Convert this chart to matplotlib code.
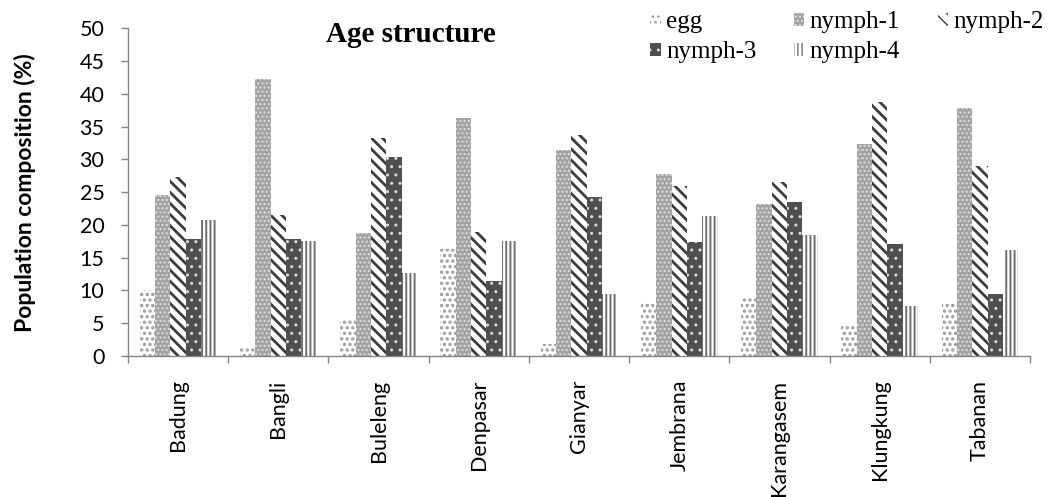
import numpy as np
import matplotlib
matplotlib.use("Agg")
import matplotlib.pyplot as plt
from matplotlib.patches import Patch

regions = ["Badung", "Bangli", "Buleleng", "Denpasar", "Gianyar",
           "Jembrana", "Karangasem", "Klungkung", "Tabanan"]
egg = [10.1, 1.5, 5.7, 16.4, 1.8, 8.1, 8.9, 4.9, 8.0]
nymph1 = [24.5, 42.2, 18.7, 36.3, 31.4, 27.8, 23.2, 32.3, 37.8]
nymph2 = [27.3, 21.5, 33.3, 18.9, 33.7, 25.9, 26.5, 38.7, 29.0]
nymph3 = [17.9, 17.8, 30.4, 11.5, 24.2, 17.4, 23.5, 17.1, 9.5]
nymph4 = [20.7, 17.6, 12.6, 17.5, 9.5, 21.4, 18.4, 7.6, 16.2]
series_names = ["egg", "nymph-1", "nymph-2", "nymph-3", "nymph-4"]
yticks = [0, 5, 10, 15, 20, 25, 30, 35, 40, 45, 50]

series = [egg, nymph1, nymph2, nymph3, nymph4]
styles = [
    dict(facecolor="white", hatch="...", edgecolor="#9a9a9a", hlw=1.6),
    dict(facecolor="#a2a2a2", hatch="....", edgecolor="#e0e0e0", hlw=1.0),
    dict(facecolor="white", hatch="\\\\\\", edgecolor="#3c3c3c", hlw=2.0),
    dict(facecolor="#4f4f4f", hatch="..", edgecolor="#dcdcdc", hlw=1.0),
    dict(facecolor="white", hatch="||||", edgecolor="#6e6e6e", hlw=1.4),
]

fig = plt.figure(figsize=(10.49, 4.97), dpi=100)
ax = fig.add_axes([128/1049, 1-356/497, (1030-128)/1049, (356-28.3)/497])

x = np.arange(len(regions))
bw = 0.153
handles = {}
for i, (vals, st) in enumerate(zip(series, styles)):
    with plt.rc_context({"hatch.linewidth": st["hlw"]}):
        bars = ax.bar(x + (i - 2) * bw, vals, width=bw, color=st["facecolor"],
                      hatch=st["hatch"], edgecolor=st["edgecolor"], linewidth=0)
        for b in bars:
            if hasattr(b, "set_hatch_linewidth"):
                b.set_hatch_linewidth(st["hlw"])
        h = Patch(facecolor=st["facecolor"], hatch=st["hatch"],
                  edgecolor=st["edgecolor"], linewidth=0, label=series_names[i])
        if hasattr(h, "set_hatch_linewidth"):
            h.set_hatch_linewidth(st["hlw"])
    handles[series_names[i]] = h

ax.set_xlim(-0.5, len(regions) - 0.5)
ax.set_ylim(0, 50)
ax.set_yticks(yticks)
ax.set_xticks(x)
ax.set_xticklabels(regions, rotation=90, fontfamily="Lato", fontsize=15.5)
ax.set_xticks(np.arange(len(regions) + 1) - 0.5, minor=True)
ax.tick_params(axis="x", which="major", length=0, pad=17)
ax.tick_params(axis="x", which="minor", length=5, color="#868686", width=1)
ax.tick_params(axis="y", length=5, color="#868686", width=1, pad=12,
               labelsize=15.5)
for lbl in ax.get_yticklabels():
    lbl.set_fontfamily("Lato")

for s in ["top", "right"]:
    ax.spines[s].set_visible(False)
for s in ["left", "bottom"]:
    ax.spines[s].set_color("#868686")
    ax.spines[s].set_linewidth(1)

ax.set_ylabel("Population composition (%)", fontfamily="Lato",
              fontweight="bold", fontsize=16.5)
ax.yaxis.set_label_coords((36 - 128) / 902, 0.5)

fig.text(411/1049, 1-34/497, "Age structure", fontfamily="Liberation Serif",
         fontweight="bold", fontsize=21, ha="center", va="center")

order = ["egg", "nymph-3", "nymph-1", "nymph-4", "nymph-2"]
fig.legend(handles=[handles[n] for n in order], ncol=3, loc="upper left",
           bbox_to_anchor=(650/1049, 1 - 11/497), frameon=False,
           prop={"family": "Liberation Serif", "size": 18},
           handlelength=0.42, handleheight=0.42, handletextpad=0.22,
           columnspacing=1.5, labelspacing=0.32, borderpad=0,
           borderaxespad=0)

fig.savefig("out.png", dpi=100)
